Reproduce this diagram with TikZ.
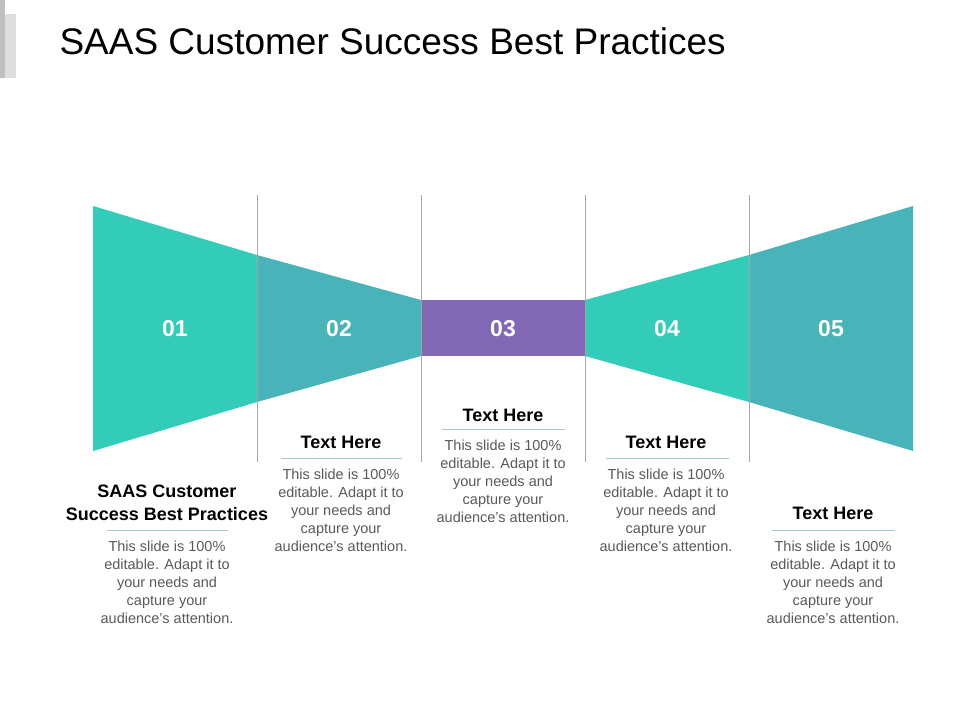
\documentclass[tikz,border=0pt]{standalone}
\usepackage{fontspec}
\setmainfont{Liberation Sans}
\begin{document}
\begin{tikzpicture}[x=1pt,y=-1pt,
  num/.style={text=white,font=\bfseries\fontsize{23}{26}\selectfont},
  ttl/.style={font=\bfseries\fontsize{18}{23}\selectfont,align=center},
  body/.style={text=black!65,font=\fontsize{14.5}{18}\selectfont,align=center},
  uline/.style={draw=cyan!40!gray!60,line width=0.8pt},
  sep/.style={draw=black!35,line width=0.6pt}]
\definecolor{tealA}{HTML}{33CCB9}
\definecolor{tealB}{HTML}{48B3B9}
\definecolor{purp}{HTML}{8068B5}
\useasboundingbox (0,0) rectangle (960,720);
\fill[black!25] (0,0) rectangle (5,78);
\fill[black!13] (5,14) rectangle (16,78);
\node[anchor=west,font=\fontsize{37}{42}\selectfont] (title) at (56,41) {SAAS Customer Success Best Practices};
\fill[tealA] (93,206) -- (257,255) -- (257,402) -- (93,451) -- cycle;
\fill[tealB] (257,255) -- (421,300) -- (421,356) -- (257,402) -- cycle;
\fill[purp] (421,300) rectangle (585,356);
\fill[tealA] (585,300) -- (749,255) -- (749,402) -- (585,356) -- cycle;
\fill[tealB] (749,255) -- (913,206) -- (913,451) -- (749,402) -- cycle;
\foreach \x in {257,421,585,749}{\draw[sep] (\x,195) -- (\x,462);}
\node[num] (n1) at (175,329) {01};
\node[num] (n2) at (339,329) {02};
\node[num] (n3) at (503,329) {03};
\node[num] (n4) at (667,329) {04};
\node[num] (n5) at (831,329) {05};
\node[ttl] (t1) at (167,503) {SAAS Customer\\Success Best Practices};
\draw[uline] (107,530) -- (228,530);
\node[body] (b1) at (167,582) {This slide is 100\%\\editable. Adapt it to\\your needs and\\capture your\\audience's attention.};
\node[ttl] (t2) at (341,442) {Text Here};
\draw[uline] (281,458) -- (402,458);
\node[body] (b2) at (341,510) {This slide is 100\%\\editable. Adapt it to\\your needs and\\capture your\\audience's attention.};
\node[ttl] (t3) at (503,415) {Text Here};
\draw[uline] (442,429) -- (565,429);
\node[body] (b3) at (503,481) {This slide is 100\%\\editable. Adapt it to\\your needs and\\capture your\\audience's attention.};
\node[ttl] (t4) at (666,442) {Text Here};
\draw[uline] (606,458) -- (729,458);
\node[body] (b4) at (666,510) {This slide is 100\%\\editable. Adapt it to\\your needs and\\capture your\\audience's attention.};
\node[ttl] (t5) at (833,513) {Text Here};
\draw[uline] (772,530) -- (895,530);
\node[body] (b5) at (833,582) {This slide is 100\%\\editable. Adapt it to\\your needs and\\capture your\\audience's attention.};
\end{tikzpicture}
\end{document}
